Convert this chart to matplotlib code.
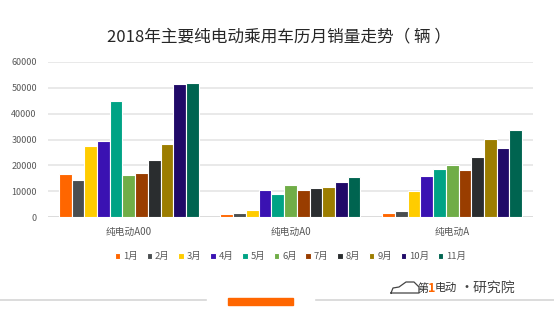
import numpy as np
import matplotlib.pyplot as plt
from matplotlib.patches import Rectangle

plt.rcParams['font.family'] = ['Noto Sans CJK SC', 'DejaVu Sans']

categories = ['纯电动A00', '纯电动A0', '纯电动A']
months = ['1月', '2月', '3月', '4月', '5月', '6月', '7月', '8月', '9月', '10月', '11月']
# 每月销量，依次为 A00 / A0 / A
sales = [
    [16700, 1300, 1500],
    [14500, 1500, 2300],
    [27500, 2900, 10200],
    [29500, 10500, 15900],
    [44700, 8900, 18800],
    [16500, 12500, 20000],
    [17000, 10500, 18300],
    [22000, 11400, 23300],
    [28300, 11700, 30100],
    [51300, 13600, 26600],
    [51600, 15700, 33500],
]
colors = ['#FF6600', '#4A4E50', '#FFCC00', '#3A12B2', '#00A385', '#70AD47',
          '#993D00', '#2A2D2F', '#9C7D00', '#200A68', '#006450']
yticks = [0, 10000, 20000, 30000, 40000, 50000, 60000]

fig = plt.figure(figsize=(5.54, 3.22), dpi=100)
ax = fig.add_axes([0.0866, 0.325, 0.8755, 0.4835])

x = np.arange(len(categories))
n = len(months)
slot = 0.866 / n
for i in range(n):
    pos = x - 0.433 + slot * (i + 0.5)
    ax.bar(pos, sales[i], width=slot, color=colors[i], edgecolor='white',
           linewidth=0.8, label=months[i], zorder=3)

ax.set_xlim(-0.5, 2.5)
ax.set_ylim(0, 60000)
ax.set_yticks(yticks)
ax.set_yticklabels([str(v) for v in yticks])
ax.set_xticks(x)
ax.set_xticklabels(categories)
ax.yaxis.grid(True, color='#E3E3E3', linewidth=1.1, zorder=0)
for s in ax.spines.values():
    s.set_visible(False)
ax.axhline(0, color='#D9D9D9', linewidth=1.1, zorder=2)
ax.tick_params(axis='both', length=0, labelsize=6.5, colors='#595959')
ax.tick_params(axis='x', pad=7, labelsize=7)
ax.tick_params(axis='y', pad=8)

ax.legend(loc='upper center', bbox_to_anchor=(0.5, -0.17), ncol=n, frameon=False,
          fontsize=6.8, handlelength=0.6, handleheight=0.6, handletextpad=0.3,
          columnspacing=0.9, labelcolor='#595959')

fig.text(0.503, 0.885, '2018年主要纯电动乘用车历月销量走势（ 辆 ）', ha='center', va='center',
         fontsize=12, color='#262626')

# 底部装饰线与标识
fig.add_artist(plt.Line2D([0, 206 / 554], [0.068, 0.068], color='#D6D6D6', linewidth=1.2))
fig.add_artist(plt.Line2D([316 / 554, 1], [0.068, 0.068], color='#D6D6D6', linewidth=1.2))
fig.add_artist(Rectangle((228 / 554, 0.053), 65 / 554, 0.022, color='#FF6600',
                         transform=fig.transFigure))

# 小车轮廓
car_x = np.array([391, 393, 399, 406, 414, 419, 419, 391]) / 554
car_y = 1 - np.array([293, 288, 287, 282, 282, 287, 293, 293]) / 322
fig.add_artist(plt.Line2D(car_x, car_y, color='#444444', linewidth=0.9))
fig.text(0.753, 0.105, '第', fontsize=8, color='#333333', style='italic', va='center')
fig.text(0.773, 0.105, '1', fontsize=9, color='#FF6600', weight='bold', style='italic', va='center')
fig.text(0.784, 0.105, '电动', fontsize=8, color='#333333', style='italic', va='center')
fig.text(0.829, 0.105, '·研究院', fontsize=10, color='#444444', va='center')

fig.savefig('out.png', dpi=100)
